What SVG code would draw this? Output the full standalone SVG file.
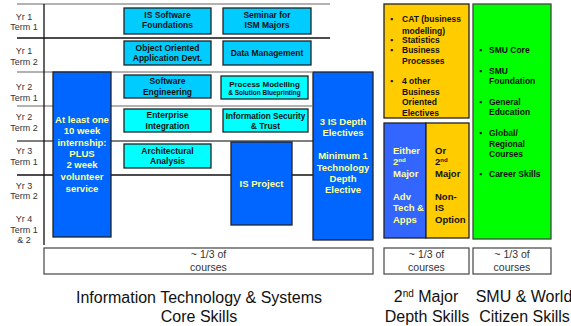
<svg xmlns="http://www.w3.org/2000/svg" width="571" height="326" viewBox="0 0 571 326">
<style>
text{font-family:"Liberation Sans",Arial,sans-serif}
.yr{font-size:9px;fill:#333;text-anchor:middle}
.b{font-size:8.5px;font-weight:bold;fill:#111;text-anchor:middle}
.sm{font-size:6.5px;font-weight:bold;fill:#111;text-anchor:middle}
.c1{fill:#00CCFF;stroke:#222;stroke-width:1.3}
.c2{fill:#00FFFF;stroke:#222;stroke-width:1.3}
.bl{fill:#0066FF;stroke:#222;stroke-width:1.3}
.wy{font-size:9.5px;font-weight:bold;fill:#FFFF99;text-anchor:middle}
.bt{font-size:8.5px;font-weight:bold;fill:#111}
.hb{font-size:9.5px;font-weight:bold}
.ct{font-size:10.5px;fill:#333;text-anchor:middle}
.big{font-size:16px;fill:#111;text-anchor:middle}
.g{stroke:#999;stroke-width:1.3}
.k{stroke:#111;stroke-width:1.3}
.bx{fill:#fff;stroke:#444;stroke-width:1.2}
</style>
<g id="grid">
<line class="g" x1="17" y1="4" x2="330" y2="4"/>
<line class="k" x1="17" y1="38" x2="330" y2="38"/>
<line class="g" x1="17" y1="72" x2="312" y2="72"/>
<line class="g" x1="17" y1="106" x2="312" y2="106"/>
<line stroke="#555" stroke-width="1.3" x1="17" y1="141" x2="313" y2="141"/>
<line class="k" x1="17" y1="175" x2="313" y2="175"/>
<line class="k" x1="44" y1="4" x2="44" y2="245"/>
</g>
<g id="rows">
<text class="yr" x="24" y="20">Yr 1</text><text class="yr" x="24" y="30">Term 1</text>
<text class="yr" x="24" y="54">Yr 1</text><text class="yr" x="24" y="65">Term  2</text>
<text class="yr" x="24" y="90">Yr 2</text><text class="yr" x="24" y="101">Term  1</text>
<text class="yr" x="24" y="120">Yr 2</text><text class="yr" x="24" y="131">Term  2</text>
<text class="yr" x="24" y="154">Yr 3</text><text class="yr" x="24" y="165">Term  1</text>
<text class="yr" x="24" y="189">Yr 3</text><text class="yr" x="24" y="199">Term  2</text>
<text class="yr" x="24" y="222">Yr 4</text><text class="yr" x="24" y="233">Term 1</text><text class="yr" x="24" y="243">&amp; 2</text>
</g>
<g id="is-software-foundations"><rect class="c1" x="124" y="8" width="87" height="26"/>
<text class="b" x="167.5" y="18">IS Software</text><text class="b" x="167.5" y="28">Foundations</text></g>
<g id="seminar"><rect class="c1" x="223" y="8" width="88" height="26"/>
<text class="b" x="267" y="18">Seminar for</text><text class="b" x="267" y="28">ISM Majors</text></g>
<g id="oo-app-devt"><rect class="c1" x="124" y="41" width="87" height="24"/>
<text class="b" x="167.5" y="51">Object Oriented</text><text class="b" x="167.5" y="61">Application Devt.</text></g>
<g id="data-management"><rect class="c1" x="223" y="41" width="88" height="24"/>
<text class="b" x="267" y="56">Data Management</text></g>
<g id="software-engineering"><rect class="c1" x="124" y="75" width="87" height="23"/>
<text class="b" x="167.5" y="84">Software</text><text class="b" x="167.5" y="95">Engineering</text></g>
<g id="process-modelling"><rect class="c2" x="221" y="76" width="87" height="23"/>
<text class="b" x="264.5" y="87" style="font-size:8px">Process Modelling</text><text class="sm" x="264.5" y="94.5">&amp; Solution Blueprinting</text></g>
<g id="enterprise-integration"><rect class="c2" x="124" y="109" width="87" height="23"/>
<text class="b" x="167.5" y="117.5">Enterprise</text><text class="b" x="167.5" y="128.5">Integration</text></g>
<g id="information-security"><rect class="c2" x="223" y="109" width="85" height="23"/>
<text class="b" x="265.5" y="119" style="font-size:8.2px">Information Security</text><text class="b" x="265.5" y="128.5">&amp; Trust</text></g>
<g id="architectural-analysis"><rect class="c2" x="124" y="144" width="87" height="24"/>
<text class="b" x="167.5" y="154">Architectural</text><text class="b" x="167.5" y="164">Analysis</text></g>
<g id="internship"><rect class="bl" x="53" y="72" width="58" height="165"/>
<text class="wy" x="82" y="122.5">At least one</text>
<text class="wy" x="82" y="134">10 week</text>
<text class="wy" x="82" y="145.5">internship:</text>
<text class="wy" x="82" y="156.5">PLUS</text>
<text class="wy" x="82" y="168">2 week</text>
<text class="wy" x="82" y="180">volunteer</text>
<text class="wy" x="82" y="192">service</text></g>
<g id="is-project"><rect class="bl" x="231" y="142" width="61" height="83"/>
<text class="wy" x="261.5" y="186.5">IS Project</text></g>
<g id="depth-electives"><rect class="bl" x="313" y="72" width="60" height="168"/>
<text class="wy" x="343" y="125">3 IS Depth</text>
<text class="wy" x="343" y="136">Electives</text>
<text class="wy" x="343" y="159">Minimum 1</text>
<text class="wy" x="343" y="170.5">Technology</text>
<text class="wy" x="343" y="182">Depth</text>
<text class="wy" x="343" y="193">Elective</text></g>
<g id="second-major-core"><rect x="384" y="4" width="85" height="114" fill="#FFCC00" stroke="#222" stroke-width="1.3"/>
<text class="bt" x="390" y="22">▪</text><text class="bt" x="402" y="22">CAT (business</text>
<text class="bt" x="402" y="33.5">modelling)</text>
<text class="bt" x="390" y="43">▪</text><text class="bt" x="402" y="43">Statistics</text>
<text class="bt" x="390" y="53">▪</text><text class="bt" x="402" y="53">Business</text>
<text class="bt" x="402" y="64">Processes</text>
<text class="bt" x="390" y="84">▪</text><text class="bt" x="402" y="84">4 other</text>
<text class="bt" x="402" y="95">Business</text>
<text class="bt" x="402" y="105">Oriented</text>
<text class="bt" x="402" y="116">Electives</text></g>
<g id="second-major-either"><rect x="384" y="123" width="42" height="115" fill="#3366FF" stroke="#222" stroke-width="1.3"/>
<g class="hb" fill="#FFFF99">
<text x="393" y="154">Either</text>
<text x="393" y="165">2<tspan font-size="6px" dy="-3.5">nd</tspan></text>
<text x="393" y="176.5">Major</text>
<text x="393" y="200">Adv</text>
<text x="393" y="211">Tech &amp;</text>
<text x="393" y="222.5">Apps</text></g></g>
<g id="second-major-or"><rect x="426" y="123" width="43" height="115" fill="#FFCC00" stroke="#222" stroke-width="1.3"/>
<g class="hb" fill="#111">
<text x="435" y="154">Or</text>
<text x="435" y="165">2<tspan font-size="6px" dy="-3.5">nd</tspan></text>
<text x="435" y="176.5">Major</text>
<text x="435" y="200">Non-</text>
<text x="435" y="211">IS</text>
<text x="435" y="222.5">Option</text></g></g>
<g id="smu-world"><rect x="473" y="4" width="78" height="235" fill="#00FF00" stroke="#444" stroke-width="1.3"/>
<text class="bt" x="479" y="53">▪</text><text class="bt" x="489" y="53">SMU Core</text>
<text class="bt" x="479" y="74">▪</text><text class="bt" x="489" y="74">SMU</text>
<text class="bt" x="489" y="84">Foundation</text>
<text class="bt" x="479" y="105">▪</text><text class="bt" x="489" y="105">General</text>
<text class="bt" x="489" y="115">Education</text>
<text class="bt" x="479" y="136">▪</text><text class="bt" x="489" y="136">Global/</text>
<text class="bt" x="489" y="146.5">Regional</text>
<text class="bt" x="489" y="156.5">Courses</text>
<text class="bt" x="479" y="177">▪</text><text class="bt" x="489" y="177">Career Skills</text></g>
<g id="share-core"><rect class="bx" x="44" y="248" width="329" height="26"/>
<text class="ct" x="208.5" y="258">~ 1/3 of</text><text class="ct" x="208.5" y="271">courses</text></g>
<g id="share-major"><rect class="bx" x="384" y="248" width="85" height="26"/>
<text class="ct" x="426.5" y="258">~ 1/3 of</text><text class="ct" x="426.5" y="271">courses</text></g>
<g id="share-smu"><rect class="bx" x="473" y="248" width="78" height="26"/>
<text class="ct" x="512" y="258">~ 1/3 of</text><text class="ct" x="512" y="271">courses</text></g>
<g id="captions">
<text class="big" x="199" y="303">Information Technology &amp; Systems</text>
<text class="big" x="199" y="322">Core Skills</text>
<text class="big" x="426" y="302">2<tspan font-size="10px" dy="-5">nd</tspan><tspan dy="5"> Major</tspan></text>
<text class="big" x="427" y="322">Depth Skills</text>
<text class="big" x="524" y="302">SMU &amp; World</text>
<text class="big" x="524.5" y="322">Citizen Skills</text>
</g>
</svg>
